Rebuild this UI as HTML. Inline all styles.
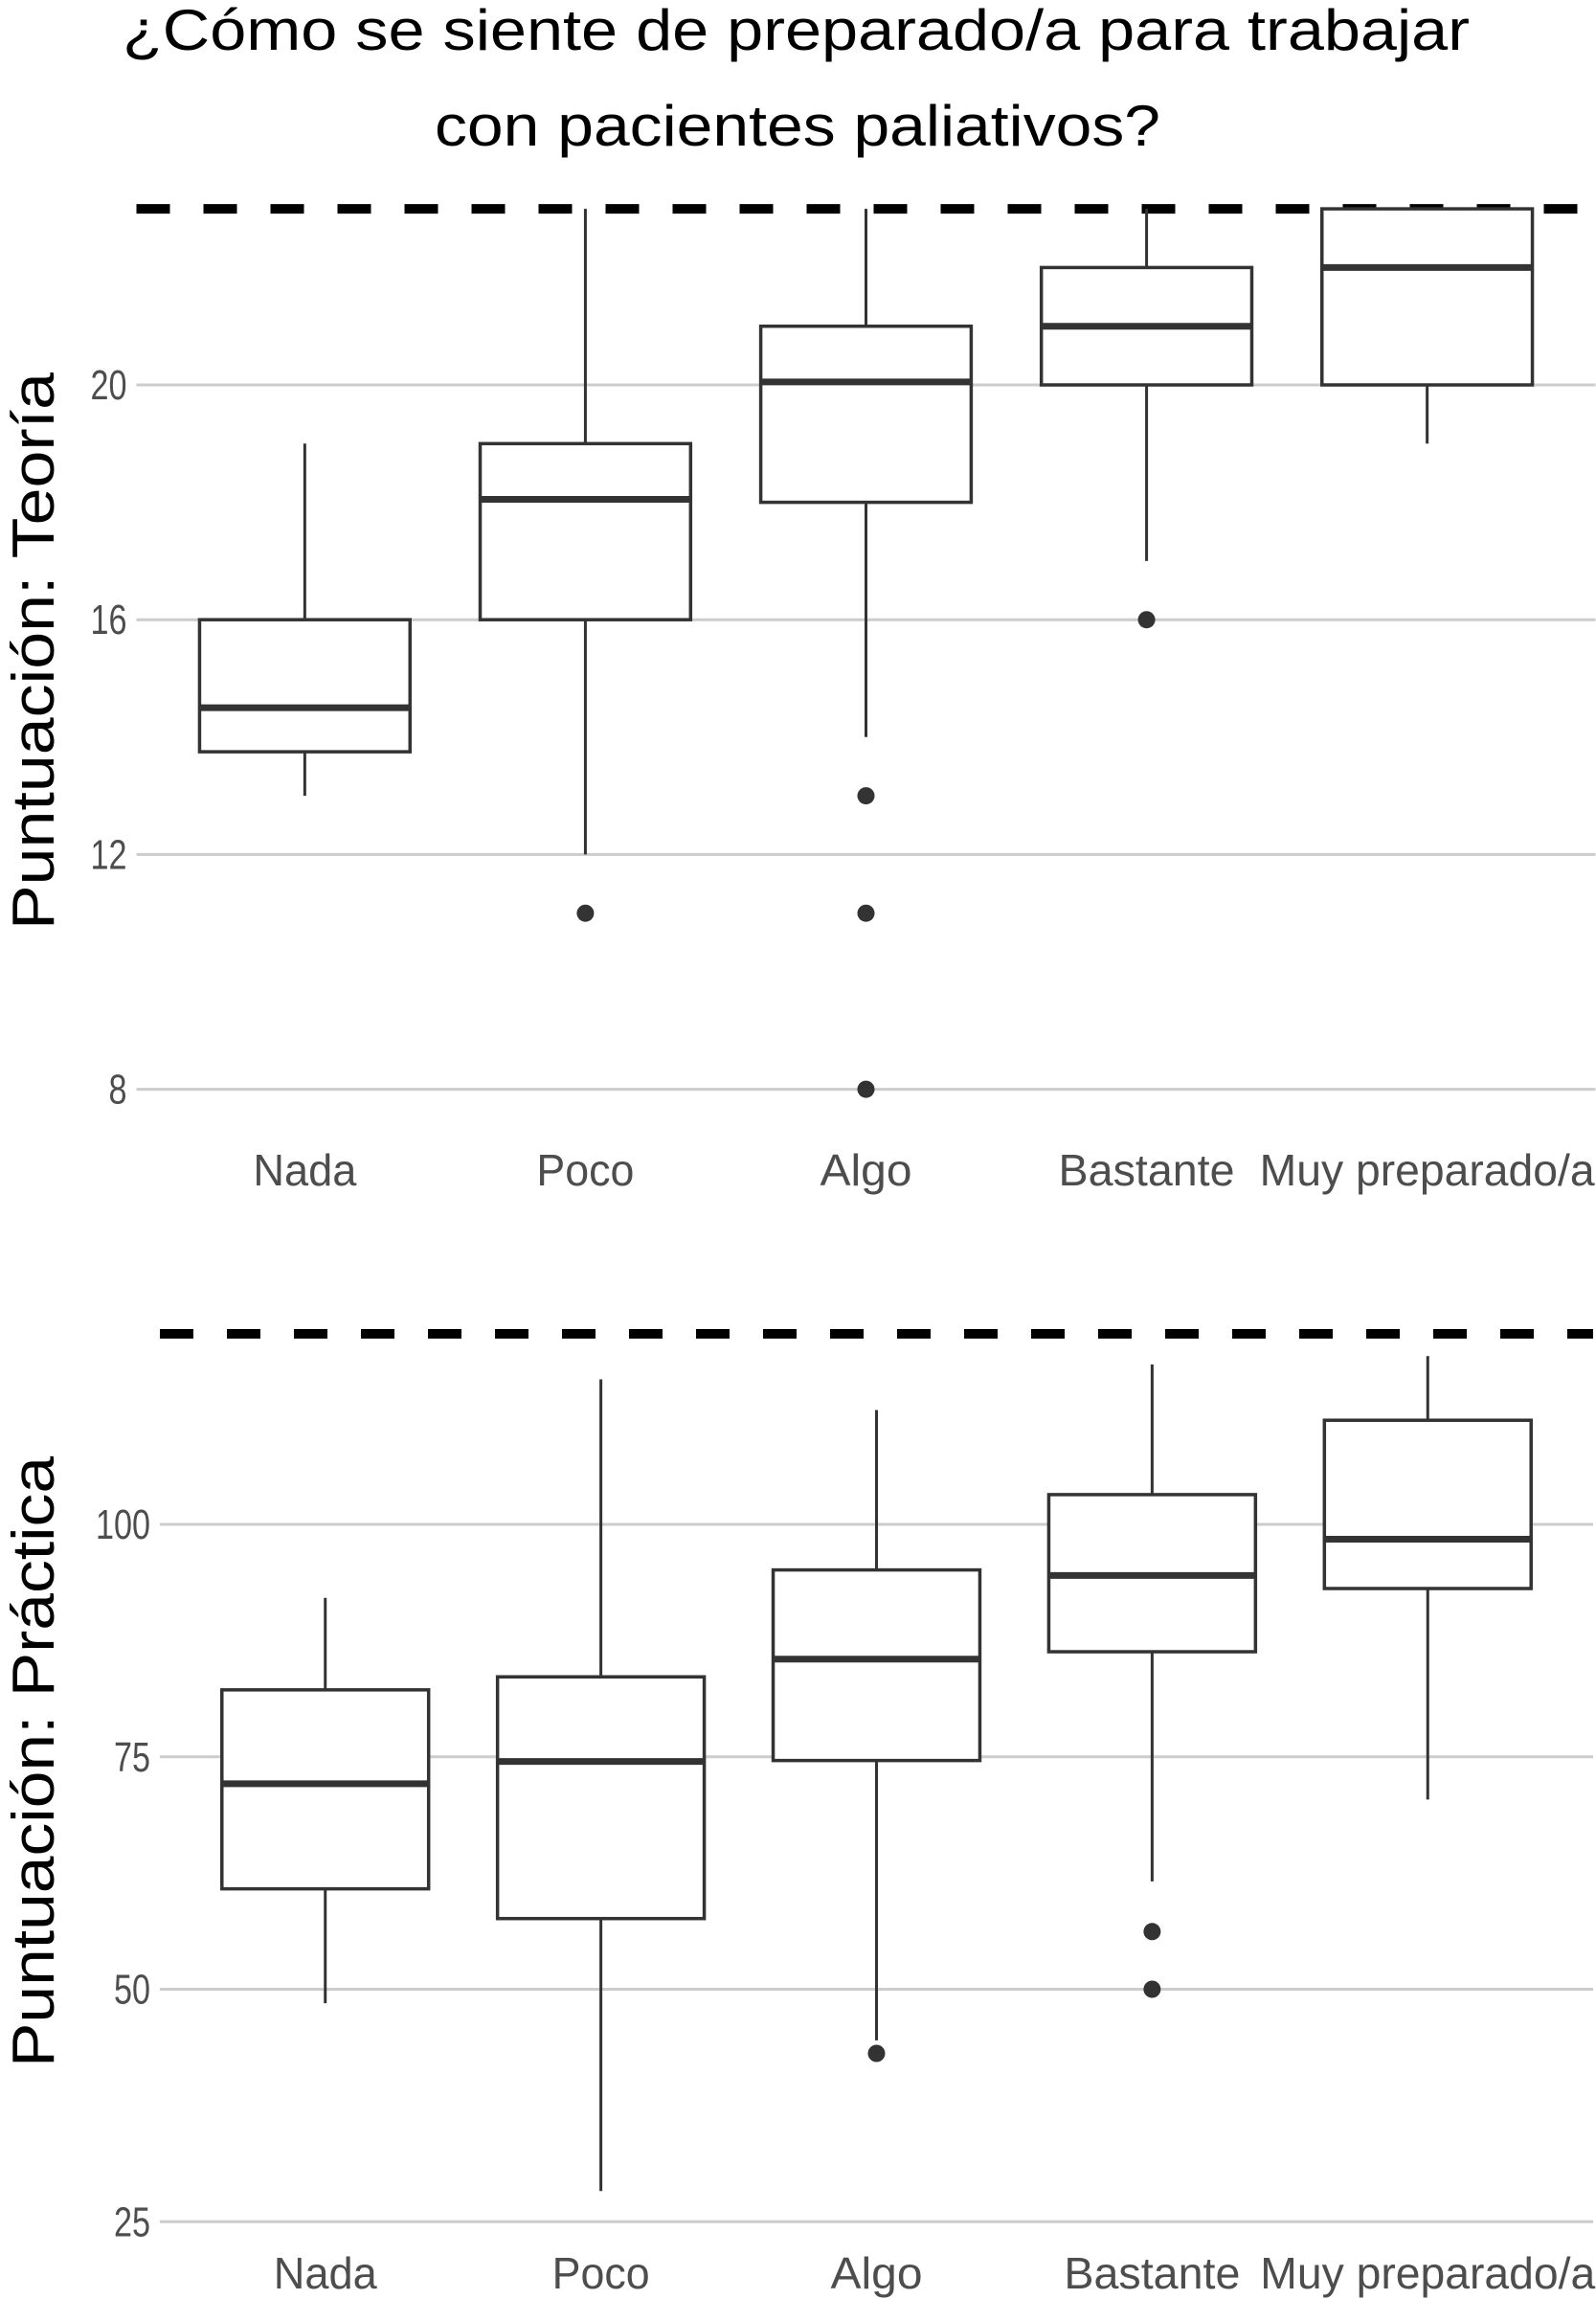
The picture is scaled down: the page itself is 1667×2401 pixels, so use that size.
<!DOCTYPE html>
<html><head><meta charset="utf-8"><style>html,body{margin:0;padding:0;background:#fff}svg{display:block}</style></head>
<body>
<svg id="chart" width="1667" height="2401" viewBox="0 0 1667 2401" xmlns="http://www.w3.org/2000/svg" font-family="Liberation Sans, sans-serif">
<rect width="1667" height="2401" fill="#fff"/>
<text x="128" y="52" font-size="60" fill="#000" textLength="1407" lengthAdjust="spacingAndGlyphs">¿Cómo se siente de preparado/a para trabajar</text>
<text x="454" y="152" font-size="60" fill="#000" textLength="758" lengthAdjust="spacingAndGlyphs">con pacientes paliativos?</text>
<g id="top"></g>
<g id="bottom"></g>
</svg>
<script>
const categories = ["Nada","Poco","Algo","Bastante","Muy preparado/a"];
// Teoría: [lowWhisker, Q1, median, Q3, highWhisker]
const teoriaStats = [[13,13.75,14.5,16,19],[12,16,18.05,19,23],[14,18,20.05,21,23],[17,20,21,22,23],[19,20,22,23,23]];
const teoriaOutliers = [[],[11],[13,11,8],[16],[]];
const teoriaTicks = [8,12,16,20];
const teoriaMax = 23;
// Práctica
const practicaStats = [[48.5,60.8,72.1,82.2,92.1],[28.3,57.6,74.5,83.6,115.6],[44.5,74.6,85.5,95.1,112.3],[61.6,86.3,94.5,103.2,117.2],[70.4,93.1,98.4,111.2,118.1]];
const practicaOutliers = [[],[],[43.1],[56.2,50],[]];
const practicaTicks = [25,50,75,100];
const practicaMax = 120.5;

const labelW = {"Nada":108,"Poco":102,"Algo":96,"Bastante":184,"Muy preparado/a":350};
const NS = "http://www.w3.org/2000/svg";
function mk(parent, tag, attrs){const e=document.createElementNS(NS,tag);for(const k in attrs)e.setAttribute(k,attrs[k]);parent.appendChild(e);return e;}

function panel(g, opt){
  const y = v => opt.y0 - (v - opt.v0) * opt.k;
  const step = (opt.right - opt.left) / (categories.length + 0.2);
  const x = i => opt.left + step * (0.6 + i);
  opt.ticks.forEach(t=>{
    const l=mk(g,'line',{x1:opt.left,x2:opt.right,y1:y(t),y2:y(t),stroke:'#cccccc','stroke-width':3});
    
    
    const s=String(t);
    const tx=mk(g,'text',{x:opt.left-10,y:y(t)+15,'font-size':44,fill:'#4d4d4d','text-anchor':'end',textLength:s.length*19,lengthAdjust:'spacingAndGlyphs'});
    tx.textContent=s;
    
    
  });
  const ref=mk(g,'line',{x1:opt.left,x2:opt.right,y1:y(opt.max),y2:y(opt.max),stroke:'#000','stroke-width':10,'stroke-dasharray':'35 35'});
  
  
  const bw = step*0.75;
  opt.stats.forEach((s,i)=>{
    const cx=x(i);
    const bg=mk(g,'g',{});
    
    
    mk(bg,'line',{x1:cx,x2:cx,y1:y(s[3]),y2:y(s[4]),stroke:'#333','stroke-width':3});
    mk(bg,'line',{x1:cx,x2:cx,y1:y(s[0]),y2:y(s[1]),stroke:'#333','stroke-width':3});
    mk(bg,'rect',{x:cx-bw/2,y:y(s[3]),width:bw,height:y(s[1])-y(s[3]),fill:'#fff',stroke:'#333','stroke-width':3.5});
    mk(bg,'line',{x1:cx-bw/2,x2:cx+bw/2,y1:y(s[2]),y2:y(s[2]),stroke:'#333','stroke-width':7});
    opt.out[i].forEach(o=>{
      const c=mk(bg,'circle',{cx:cx,cy:y(o),r:9,fill:'#333'});
      
      
    });
    const t=mk(g,'text',{x:cx,y:opt.labelY,'font-size':46,fill:'#4d4d4d','text-anchor':'middle',textLength:labelW[categories[i]],lengthAdjust:'spacingAndGlyphs'});
    t.textContent=categories[i];
    
    
  });
  const yt=mk(g,'text',{transform:`translate(${opt.titleX},${opt.titleY}) rotate(-90)`,'font-size':62,fill:'#000','text-anchor':'middle',textLength:opt.titleLen,lengthAdjust:'spacingAndGlyphs'});
  yt.textContent=opt.title;
  
  
}
panel(document.getElementById('top'),{left:142.5,right:1666.5,y0:402,v0:20,k:61.3,ticks:teoriaTicks,max:teoriaMax,stats:teoriaStats,out:teoriaOutliers,labelY:1238,title:'Puntuación: Teoría',titleX:56,titleY:680,titleLen:582});
panel(document.getElementById('bottom'),{left:167,right:1664,y0:1592,v0:100,k:9.71,ticks:practicaTicks,max:practicaMax,stats:practicaStats,out:practicaOutliers,labelY:2390,title:'Puntuación: Práctica',titleX:56,titleY:1840,titleLen:638});
</script>
</body></html>
